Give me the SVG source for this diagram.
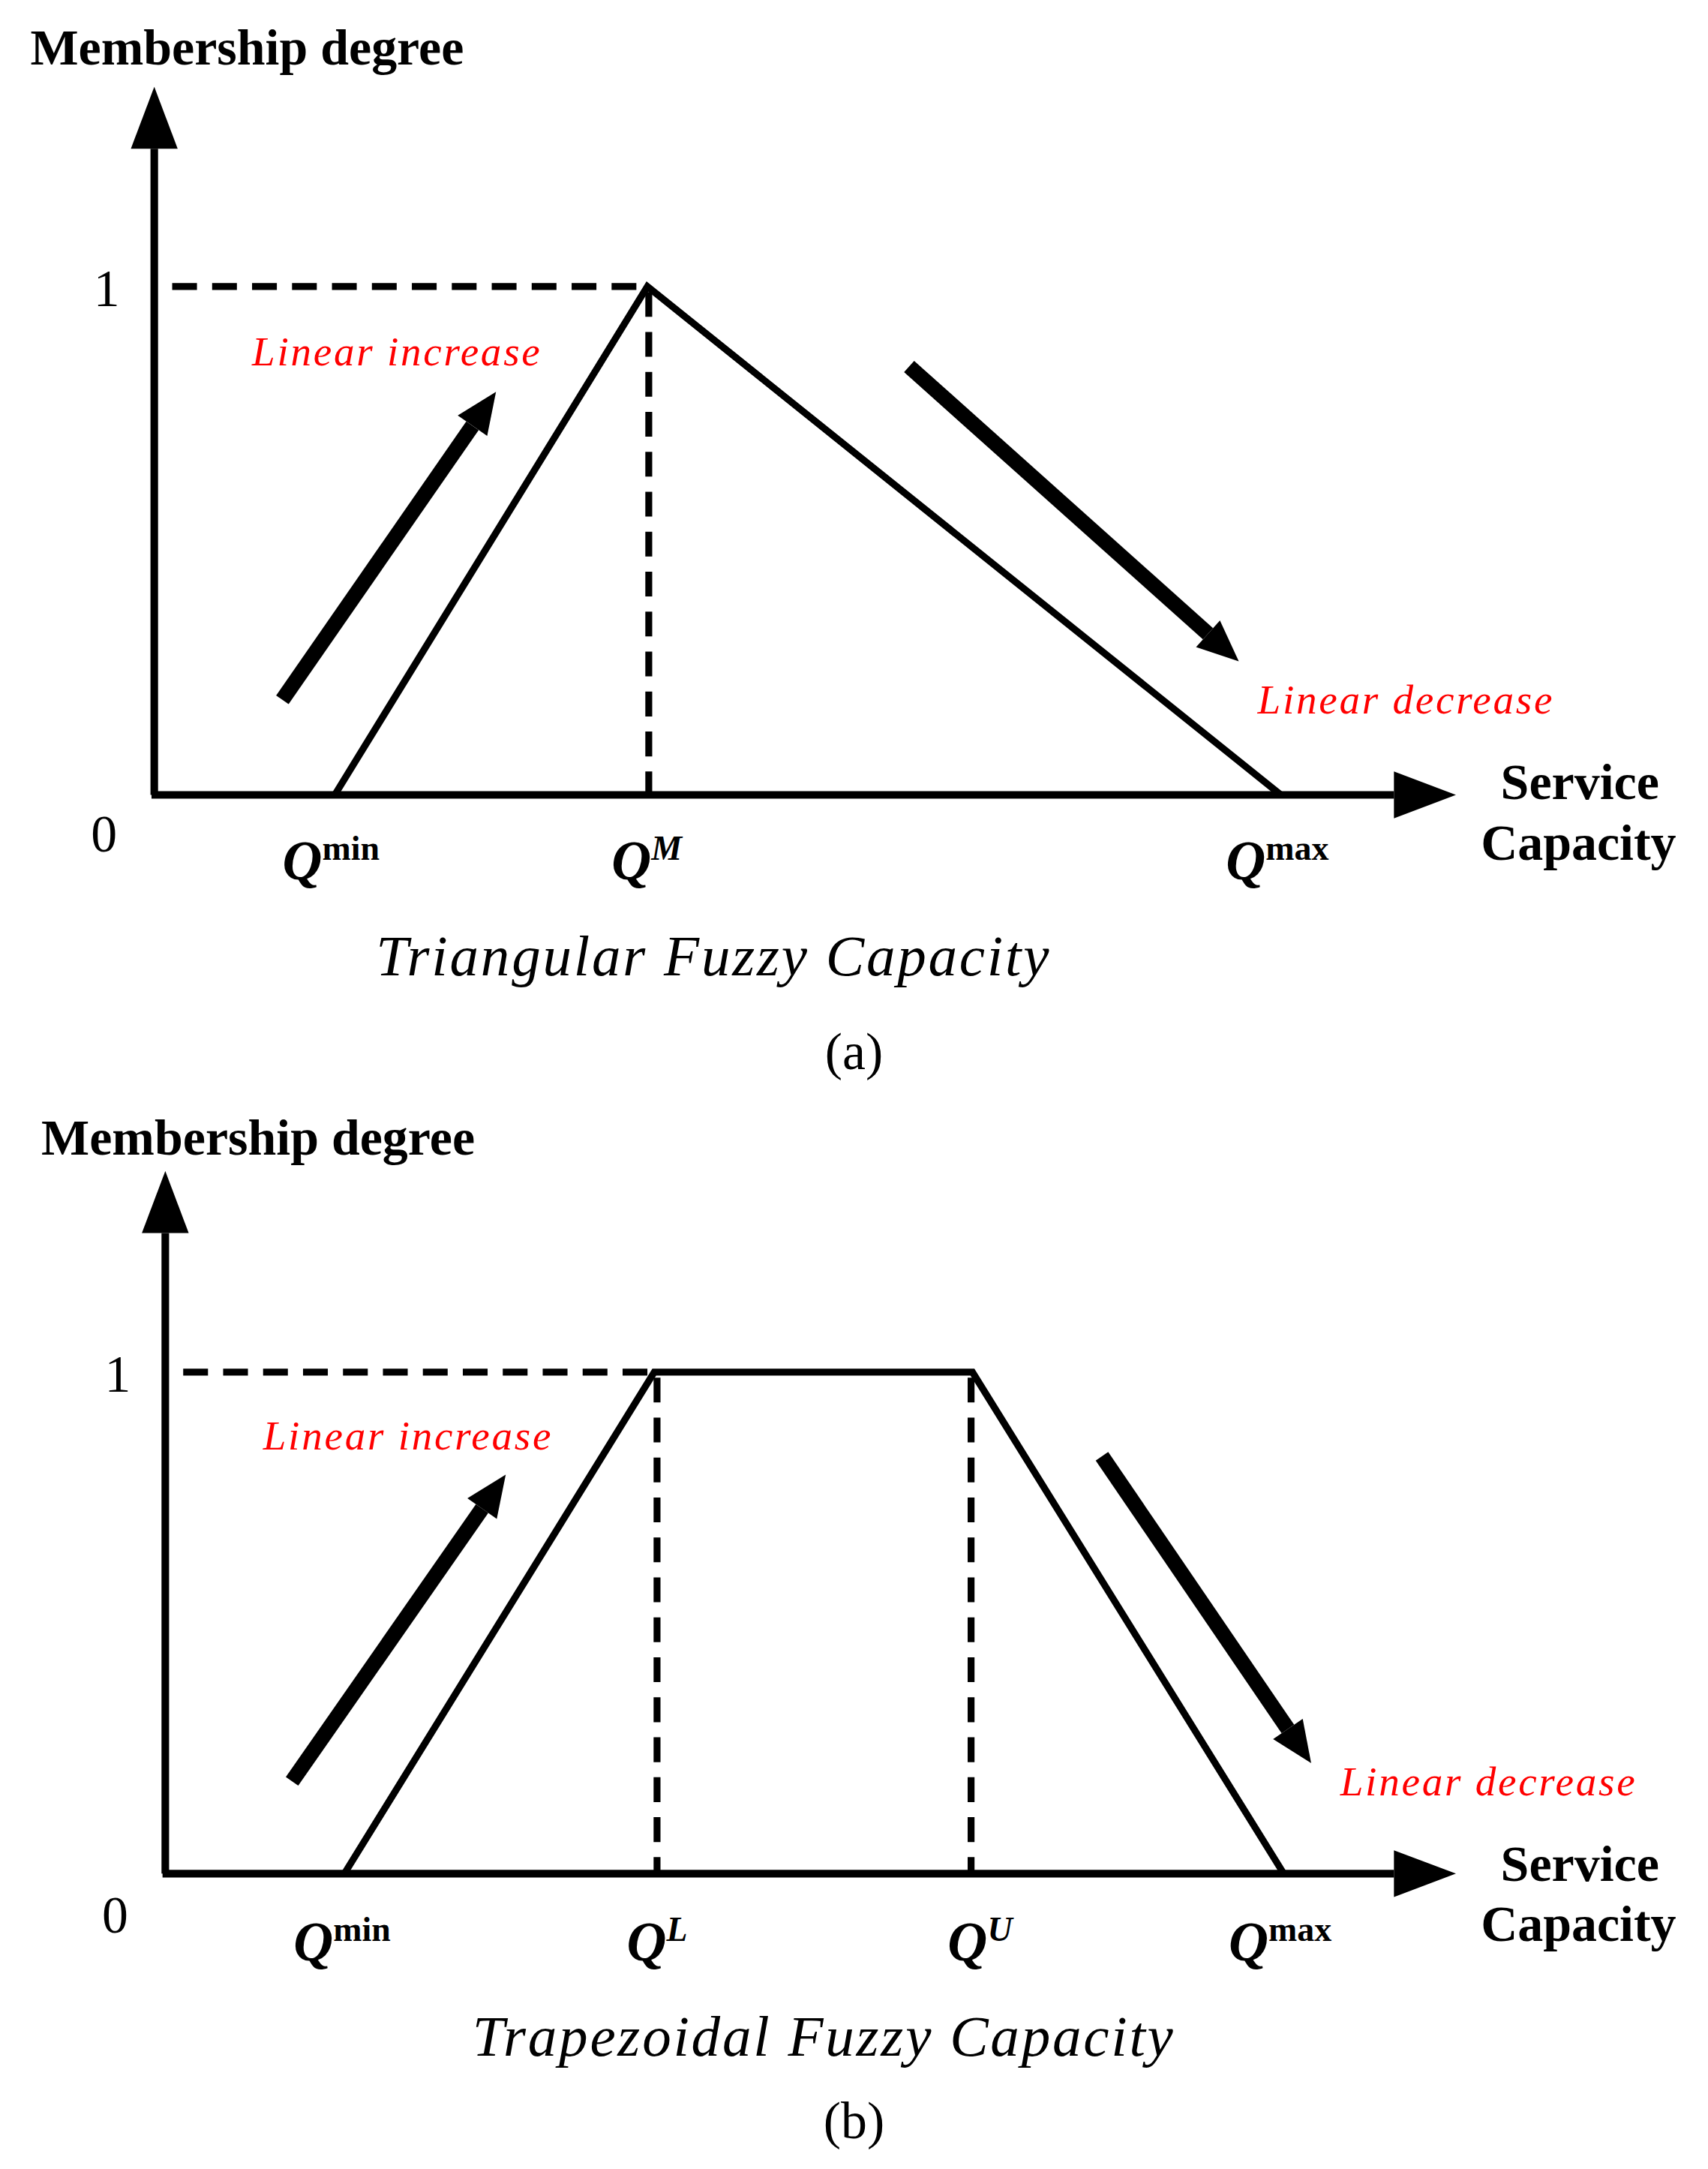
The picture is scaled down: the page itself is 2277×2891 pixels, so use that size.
<svg xmlns="http://www.w3.org/2000/svg" width="2277" height="2891" viewBox="0 0 2277 2891">
<style>
.ax{stroke:#000;stroke-width:5.5;fill:none}
.ln{stroke:#000;stroke-width:5;fill:none}
.ds{stroke:#000;stroke-width:5;fill:none;stroke-dasharray:18,11}
.th{stroke:#000;stroke-width:11;fill:none}
.t{font-family:"Liberation Serif",serif;fill:#000}
.b{font-weight:bold;font-size:37px}
.n{font-size:38px}
.q{font-style:italic;font-weight:bold;font-size:40px}
.s{font-size:25px;font-weight:bold}
.r{font-family:"Liberation Serif",serif;font-style:italic;font-size:30px;fill:#f00;letter-spacing:1.5px}
.ti{font-family:"Liberation Serif",serif;font-style:italic;font-size:42px;letter-spacing:1.5px}
</style>
<defs>
<marker id="ah" markerUnits="userSpaceOnUse" markerWidth="50" markerHeight="40" refX="0" refY="0" viewBox="-5 -18 50 36" orient="auto"><path d="M0,-17 L45,0 L0,17 Z" fill="#000"/></marker>
<marker id="th" markerUnits="userSpaceOnUse" markerWidth="40" markerHeight="40" refX="0" refY="0" viewBox="-5 -15 40 30" orient="auto"><path d="M0,-13 L30,0 L0,13 Z" fill="#000"/></marker>
</defs>
<rect width="2277" height="2891" fill="#fff"/>
<g transform="scale(1.8363)">
<g id="chart-a">
<g id="connectors-a">
<line class="ax" x1="112" y1="577" x2="112" y2="108" marker-end="url(#ah)"/>
<line class="ax" x1="110" y1="577" x2="1012" y2="577" marker-end="url(#ah)"/>
<line class="ds" x1="125" y1="208" x2="470" y2="208"/>
<line class="ds" x1="471" y1="212" x2="471" y2="577"/>
<polyline class="ln" points="243,577 470,208 930,577"/>
<line class="th" x1="205" y1="508" x2="343" y2="309" marker-end="url(#th)"/>
<line class="th" x1="660" y1="266" x2="877" y2="460" marker-end="url(#th)"/>
</g>
<text class="t b" x="22" y="47">Membership degree</text>
<text class="t n" x="68" y="222">1</text>
<text class="t n" x="66" y="618">0</text>
<text class="r" x="183" y="265">Linear increase</text>
<text class="r" x="913" y="518">Linear decrease</text>
<text class="t q" x="205" y="638">Q<tspan class="s" font-style="normal" dy="-14">min</tspan></text>
<text class="t q" x="444" y="638">Q<tspan class="s" dy="-14">M</tspan></text>
<text class="t q" x="890" y="638">Q<tspan class="s" font-style="normal" dy="-14">max</tspan></text>
<text class="t b" x="1147" y="580" text-anchor="middle">Service</text>
<text class="t b" x="1146" y="624" text-anchor="middle">Capacity</text>
<text class="t ti" x="518" y="708" text-anchor="middle">Triangular Fuzzy Capacity</text>
<text class="t n" x="620" y="776" text-anchor="middle">(a)</text>
</g>
<g id="chart-b">
<g id="connectors-b">
<line class="ax" x1="120" y1="1360" x2="120" y2="895" marker-end="url(#ah)"/>
<line class="ax" x1="118" y1="1360" x2="1012" y2="1360" marker-end="url(#ah)"/>
<line class="ds" x1="133" y1="996" x2="475" y2="996"/>
<line class="ds" x1="477" y1="1000" x2="477" y2="1360"/>
<line class="ds" x1="705" y1="1000" x2="705" y2="1360"/>
<polyline class="ln" points="250,1360 475,996 706,996 932,1360"/>
<line class="th" x1="212" y1="1293" x2="350" y2="1095" marker-end="url(#th)"/>
<line class="th" x1="800" y1="1057" x2="935" y2="1255" marker-end="url(#th)"/>
</g>
<text class="t b" x="30" y="838">Membership degree</text>
<text class="t n" x="76" y="1010">1</text>
<text class="t n" x="74" y="1403">0</text>
<text class="r" x="191" y="1052">Linear increase</text>
<text class="r" x="973" y="1303">Linear decrease</text>
<text class="t q" x="213" y="1423">Q<tspan class="s" font-style="normal" dy="-14">min</tspan></text>
<text class="t q" x="455" y="1423">Q<tspan class="s" dy="-14">L</tspan></text>
<text class="t q" x="688" y="1423">Q<tspan class="s" dy="-14">U</tspan></text>
<text class="t q" x="892" y="1423">Q<tspan class="s" font-style="normal" dy="-14">max</tspan></text>
<text class="t b" x="1147" y="1365" text-anchor="middle">Service</text>
<text class="t b" x="1146" y="1409" text-anchor="middle">Capacity</text>
<text class="t ti" x="598" y="1492" text-anchor="middle">Trapezoidal Fuzzy Capacity</text>
<text class="t n" x="620" y="1552" text-anchor="middle">(b)</text>
</g>
</g>
</svg>
